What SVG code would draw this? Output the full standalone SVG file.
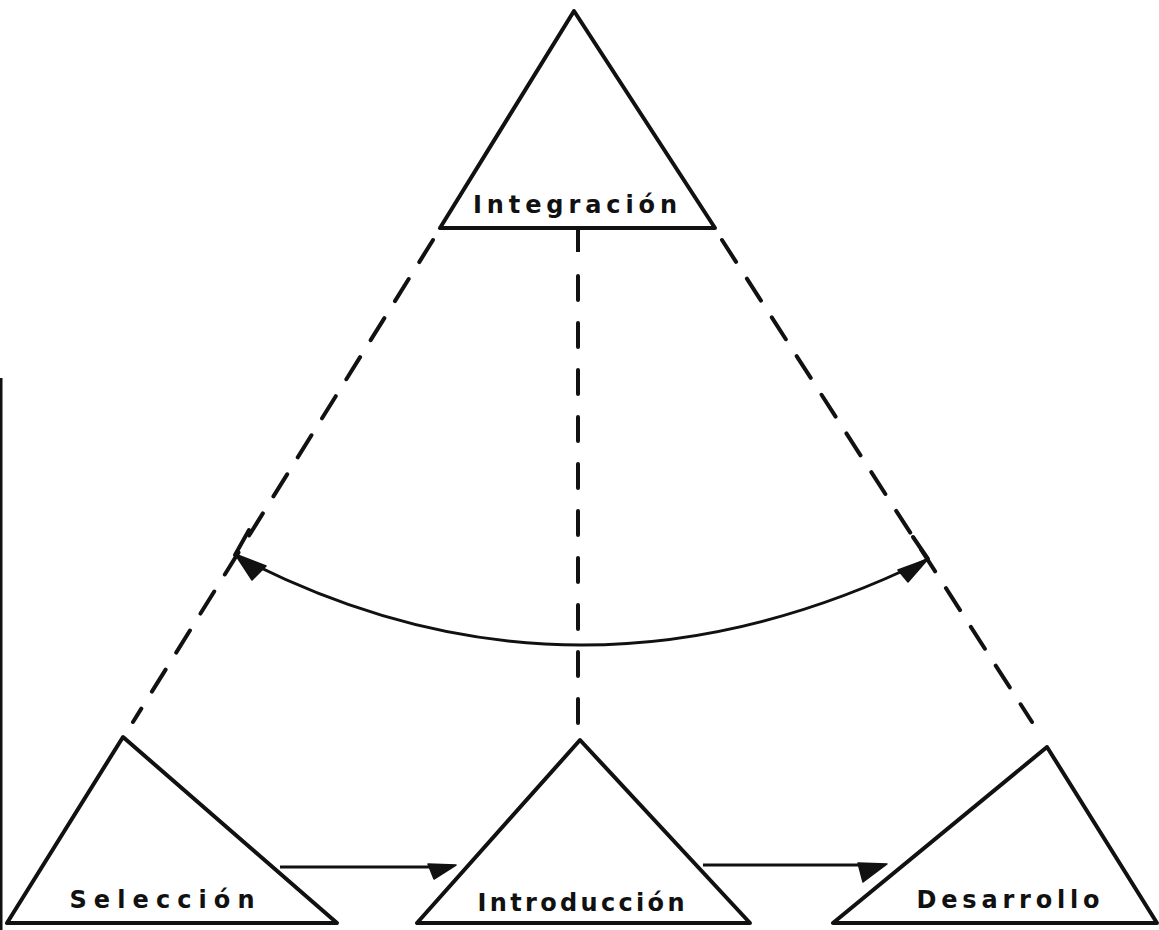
<svg xmlns="http://www.w3.org/2000/svg" width="1159" height="930" viewBox="0 0 1159 930">
<style>
.tri{fill:none;stroke:#111;stroke-width:4;stroke-linejoin:round}
.lbl{font-family:"DejaVu Sans","Liberation Sans",sans-serif;font-weight:bold;font-size:24px;fill:#111;text-anchor:middle}
.dash{fill:none;stroke:#111;stroke-width:4;stroke-linecap:round;stroke-dasharray:26 20}
.vdash{fill:none;stroke:#111;stroke-width:4;stroke-linecap:round;stroke-dasharray:24 23}
.ln{fill:none;stroke:#111;stroke-width:3}
.head{fill:#111;stroke:#111;stroke-width:1.5;stroke-linejoin:round}
</style>
<rect width="1159" height="930" fill="#fff"/>
<line x1="1" y1="378" x2="1" y2="930" stroke="#111" stroke-width="3"/>
<g id="integracion">
<polygon class="tri" points="574,11 440,228 715,228"/>
<text class="lbl" x="575" y="213" textLength="204" lengthAdjust="spacing">Integración</text>
</g>
<g id="seleccion">
<polygon class="tri" points="123,737 7,923 337,923"/>
<text class="lbl" x="162" y="908" textLength="185" lengthAdjust="spacing">Selección</text>
</g>
<g id="introduccion">
<polygon class="tri" points="580,740 417,923 750,923"/>
<text class="lbl" x="581" y="911" textLength="207" lengthAdjust="spacing">Introducción</text>
</g>
<g id="desarrollo">
<polygon class="tri" points="1047,747 833,923 1157,923"/>
<text class="lbl" x="1008" y="908" textLength="183" lengthAdjust="spacing">Desarrollo</text>
</g>
<g id="connectors">
<path class="dash" d="M433,240 L133,722"/>
<path class="dash" d="M722,240 L1032,722"/>
<line x1="578" y1="229" x2="578" y2="252" stroke="#111" stroke-width="4"/>
<path class="vdash" d="M578,276 L578,735"/>
<line class="ln" x1="280" y1="867" x2="448" y2="867"/>
<polygon class="head" points="456,865 428,864 434,879"/>
<line class="ln" x1="703" y1="865" x2="880" y2="865"/>
<polygon class="head" points="887,864 858,863 863,882"/>
<path class="ln" d="M237,556 Q574,732 926,560"/>
<line x1="249" y1="530" x2="235" y2="555" stroke="#111" stroke-width="4" stroke-linecap="round"/>
<polygon class="head" points="235,554 266,566 252,580"/>
<line x1="913" y1="537" x2="928" y2="559" stroke="#111" stroke-width="4" stroke-linecap="round"/>
<polygon class="head" points="928,559 898,570 908,582"/>
</g>
</svg>
